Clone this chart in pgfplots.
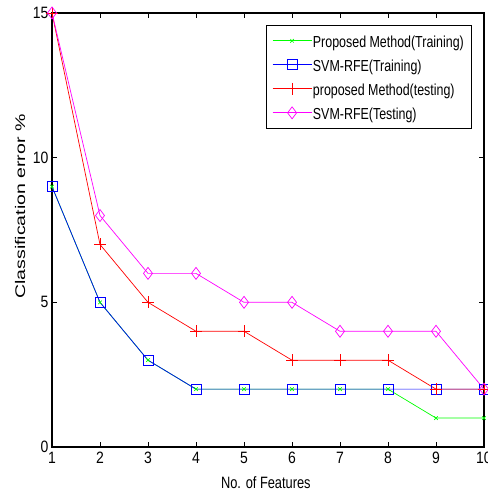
\documentclass[border=0pt]{standalone}
\usepackage{pgfplots}
\pgfplotsset{compat=1.18}
\usepackage{fontspec}
\setmainfont{Liberation Sans}[FakeStretch=0.78]
\newfontfamily\ylabfont{Liberation Sans}[FakeStretch=1.4]
\newfontfamily\tickfont{Liberation Sans}[FakeStretch=0.85]
\definecolor{pgreen}{rgb}{0,1,0}
\definecolor{pblue}{rgb}{0,0,1}
\definecolor{pred}{rgb}{1,0,0}
\definecolor{pmag}{rgb}{1,0,1}
\begin{document}
\begin{tikzpicture}
\begin{axis}[name=ax, scale only axis, width=432bp, height=434bp,
  xmin=1, xmax=10, ymin=0, ymax=15,
  xtick={1,...,10}, ytick={0,5,10,15},
  tick align=inside, major tick length=5bp,
  tick style={line width=0.8bp, black},
  axis line style={line width=1.3bp},
  clip=false,
  font=\fontsize{16}{16}\selectfont,
  /pgf/number format/assume math mode=true,
  xticklabel style={font=\tickfont\fontsize{16.5}{16.5}\selectfont, yshift=-2bp},
  yticklabel style={font=\tickfont\fontsize{16.5}{16.5}\selectfont},
  xlabel={No. of Features},
  ylabel={Classification error \%},
  xlabel style={at={(axis description cs:0.495,-0.083)}, anchor=center, font=\fontsize{16.5}{16.5}\selectfont},
  ylabel style={at={(axis description cs:-0.074,0.554)}, anchor=center, font=\ylabfont\fontsize{14}{14}\selectfont},
  legend style={at={(rel axis cs:0.970,0.972)}, anchor=north east,
    font=\fontsize{16}{16}\selectfont, row sep=8bp, inner xsep=6bp, inner ysep=7.5bp,
    nodes={inner sep=1bp, text height=14bp, text depth=0bp}},
  legend cell align=left,
  legend image code/.code={\draw[mark repeat=2,mark phase=2] plot coordinates {(0bp,0bp) (19.5bp,0bp) (39bp,0bp)};},
]
\addplot[color=pgreen, line width=0.7bp, mark=x, mark size=2.5bp, mark options={line width=0.7bp}]
  coordinates {(1,9) (2,5) (3,3) (4,2) (5,2) (6,2) (7,2) (8,2) (9,1) (10,1)};
\addlegendentry{Proposed Method(Training)}
\addplot[color=pblue, line width=0.7bp, mark=square, mark size=5bp, mark options={line width=0.7bp}]
  coordinates {(1,9) (2,5) (3,3) (4,2) (5,2) (6,2) (7,2) (8,2) (9,2) (10,2)};
\addlegendentry{SVM-RFE(Training)}
\addplot[color=pred, line width=0.7bp, mark=+, mark size=6bp, mark options={line width=0.7bp}]
  coordinates {(1,15) (2,7) (3,5) (4,4) (5,4) (6,3) (7,3) (8,3) (9,2) (10,2)};
\addlegendentry{proposed Method(testing)}
\addplot[color=pmag, line width=0.7bp, mark=diamond, mark size=6bp, mark options={line width=0.7bp}]
  coordinates {(1,15) (2,8) (3,6) (4,6) (5,5) (6,5) (7,4) (8,4) (9,4) (10,2)};
\addlegendentry{SVM-RFE(Testing)}
\end{axis}
\pgfresetboundingbox
\path[use as bounding box] ([shift={(-52bp,-48bp)}]ax.south west) rectangle ([shift={(4bp,13bp)}]ax.north east);
\end{tikzpicture}
\end{document}
